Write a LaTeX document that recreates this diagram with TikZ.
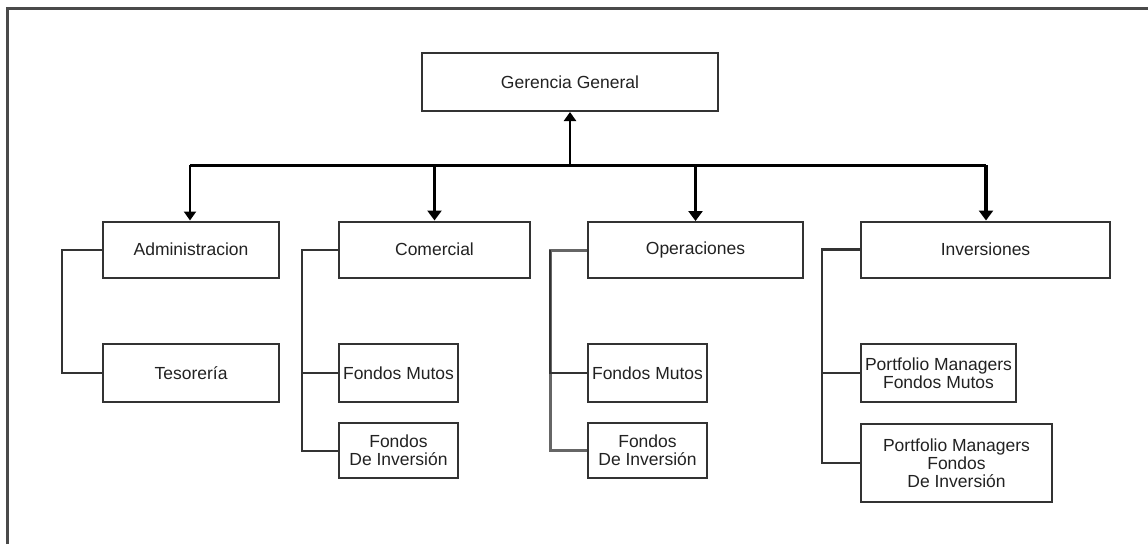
\documentclass[tikz,border=0pt]{standalone}
\usepackage{fontspec}
\setmainfont{Liberation Sans}
\usetikzlibrary{arrows.meta}
\definecolor{boxc}{HTML}{333333}
\definecolor{framec}{HTML}{4A4A4A}
\definecolor{grayc}{HTML}{666666}
\definecolor{textc}{HTML}{222222}
\tikzset{
  unit/.style={draw=boxc, line width=2pt, fill=white, inner sep=0pt, align=center,
    text=textc, font=\fontsize{17.5}{18}\selectfont},
  conn/.style={draw=boxc, line width=2pt},
  busline/.style={draw=black, line width=3pt},
  arr/.style={draw=black, line width=3.5pt, -{Triangle[width=14pt,length=10pt]}},
  thinarr/.style={draw=black, line width=2pt, -{Triangle[width=12pt,length=9pt]}},
  framel/.style={draw=framec, line width=3pt}
}
\begin{document}
\begin{tikzpicture}[x=1pt,y=-1pt]
\useasboundingbox (0,0) rectangle (1148,544);
\draw[framel] (7,544) -- (7,8) -- (1148,8);

\node[unit, minimum width=296pt, minimum height=58pt] (gg) at (570,82) {Gerencia General};

\node[unit, minimum width=176pt, minimum height=56pt] (adm) at (191,249.5) {Administracion};
\node[unit, minimum width=176pt, minimum height=58pt] (tes) at (191,373) {Tesorería};

\node[unit, minimum width=191pt, minimum height=56pt] (com) at (434.5,249.5) {Comercial};
\node[unit, minimum width=119pt, minimum height=58pt] (cfm) at (398.5,373) {Fondos Mutos};
\node[unit, minimum width=119pt, minimum height=55pt] (cfi) at (398.5,450.5) {Fondos\\De Inversión};

\node[unit, minimum width=215pt, minimum height=56pt] (ope) at (695.5,250) {Operaciones};
\node[unit, minimum width=119pt, minimum height=58pt] (ofm) at (647.5,373) {Fondos Mutos};
\node[unit, minimum width=119pt, minimum height=55pt] (ofi) at (647.5,450.5) {Fondos\\De Inversión};

\node[unit, minimum width=249pt, minimum height=56pt] (inv) at (985.5,249.5) {Inversiones};
\node[unit, minimum width=155pt, minimum height=58pt] (ipm) at (938.5,373) {Portfolio Managers\\Fondos Mutos};
\node[unit, minimum width=191pt, minimum height=78pt] (ipi) at (956.5,463) {Portfolio Managers\\Fondos\\De Inversión};

% bus
\coordinate (bl) at (190,165);
\coordinate (br) at (986,165);
\draw[busline] (bl) -- (br);
\draw[thinarr, line width=2.5pt] (gg.south |- bl) -- (gg.south);
\draw[thinarr] (bl) -- (bl |- adm.north);
\draw[arr] (com.north |- bl) -- (com.north);
\draw[arr] (ope.north |- bl) -- (ope.north);
\draw[arr] (br) -- (br |- inv.north);

% sub connectors
\draw[conn] (adm.west) -- ++(-40,0) |- (tes.west);
\draw[conn] (com.west) -- ++(-36,0) |- (cfi.west);
\draw[conn] (com.west) ++(-36,0) |- (cfm.west);
\draw[conn, draw=grayc, line width=3pt] (ope.west) -- ++(-37,0) |- (ofi.west);
\draw[conn] (ope.west) ++(-37,0) |- (ofm.west);
\draw[conn, line width=2.5pt] (inv.west) -- ++(-38,0) |- (ipi.west);
\draw[conn] (inv.west) ++(-38,0) |- (ipm.west);
\end{tikzpicture}
\end{document}
